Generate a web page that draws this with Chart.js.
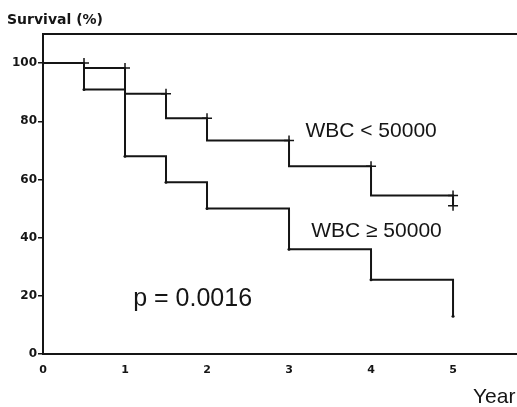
<!DOCTYPE html>
<html>
<head>
<meta charset="utf-8">
<script src="https://cdn.jsdelivr.net/npm/chart.js@4"></script>
<style>
  html, body { margin: 0; padding: 0; background: #fff; }
  #wrap { width: 517px; height: 407px; }
</style>
</head>
<body>
<div id="wrap"><canvas id="survivalChart"></canvas></div>
<script>
// Kaplan-Meier curves (years, survival %)
const lowTimes = [0, 0.5, 1, 1.5, 2, 3, 4, 5];
const lowSurvival = [100, 98.3, 89.5, 81, 73.4, 64.5, 54.5, 51];
// censored cases (the + marks) on the WBC < 50000 curve
const lowCensorTimes = [0.5, 1, 1.5, 2, 3, 4, 5, 5];
const lowCensorSurvival = [100, 98.3, 89.5, 81, 73.4, 64.5, 54.5, 51];

const highTimes = [0, 0.5, 1, 1.5, 2, 3, 4, 5];
const highSurvival = [100, 90.9, 68, 59, 50, 36, 25.5, 13];

const xTicks = [0, 1, 2, 3, 4, 5];
const yTicks = [0, 20, 40, 60, 80, 100];

const toPoints = (xs, ys) => xs.map((t, i) => ({ x: t, y: ys[i] }));
const ink = '#151515';

// free text on the figure
const textLabels = {
  id: 'textLabels',
  afterDraw(chart) {
    const { ctx, scales: { x, y } } = chart;
    ctx.save();
    ctx.fillStyle = ink;
    ctx.textBaseline = 'alphabetic';
    ctx.font = 'bold 14px "DejaVu Sans"';
    ctx.fillText('Survival (%)', 7, 24);
    ctx.font = '21px "Liberation Sans"';
    ctx.fillText('WBC < 50000', x.getPixelForValue(3.2), y.getPixelForValue(74.5));
    ctx.fillText('WBC \u2265 50000', x.getPixelForValue(3.27), y.getPixelForValue(40.2));
    ctx.font = '25px "Liberation Sans"';
    ctx.fillText('p = 0.0016', x.getPixelForValue(1.1), y.getPixelForValue(16.5));
    ctx.font = '21px "Liberation Sans"';
    ctx.fillText('Year', 473, 403);
    ctx.restore();
  }
};

const ctx = document.getElementById('survivalChart').getContext('2d');
const survivalChart = new Chart(ctx, {
  type: 'line',
  data: {
    datasets: [{
      label: 'WBC < 50000',
      data: toPoints(lowTimes, lowSurvival),
      stepped: 'before',
      borderColor: ink,
      borderWidth: 2,
      pointRadius: 0,
      fill: false
    }, {
      label: 'WBC >= 50000',
      data: toPoints(highTimes, highSurvival),
      stepped: 'before',
      borderColor: ink,
      borderWidth: 2,
      pointRadius: 1.5,
      pointBackgroundColor: ink,
      pointBorderWidth: 0,
      fill: false
    }, {
      label: 'censored',
      data: toPoints(lowCensorTimes, lowCensorSurvival),
      showLine: false,
      pointStyle: 'cross',
      pointRadius: 5,
      pointBorderWidth: 1.5,
      pointBorderColor: ink
    }]
  },
  options: {
    responsive: true,
    maintainAspectRatio: false,
    animation: false,
    layout: { autoPadding: false, padding: { top: 34, right: 0, left: 0, bottom: 0 } },
    plugins: {
      legend: { display: false },
      tooltip: { enabled: false }
    },
    scales: {
      x: {
        type: 'linear',
        min: 0,
        max: 5.78,
        afterBuildTicks: (scale) => { scale.ticks = xTicks.map(v => ({ value: v })); },
        afterFit: (scale) => { scale.height = 53; },
        grid: { display: false, drawTicks: false },
        border: { display: true, color: ink, width: 2 },
        ticks: {
          padding: 10,
          maxRotation: 0,
          color: ink,
          font: { family: 'DejaVu Sans', size: 11, weight: 'bold' }
        }
      },
      top: {
        type: 'linear',
        position: 'top',
        min: 0,
        max: 5.78,
        grid: { display: false, drawTicks: false },
        border: { display: true, color: ink, width: 2 },
        ticks: { display: false }
      },
      y: {
        min: 0,
        max: 110,
        afterBuildTicks: (scale) => { scale.ticks = yTicks.map(v => ({ value: v })); },
        afterFit: (scale) => { scale.width = 43; },
        grid: { drawOnChartArea: false, color: ink, lineWidth: 1.5, tickLength: 5 },
        border: { display: true, color: ink, width: 2 },
        ticks: {
          padding: 1,
          color: ink,
          font: { family: 'DejaVu Sans', size: 12, weight: 'bold' }
        }
      }
    }
  },
  plugins: [textLabels]
});
</script>
</body>
</html>
